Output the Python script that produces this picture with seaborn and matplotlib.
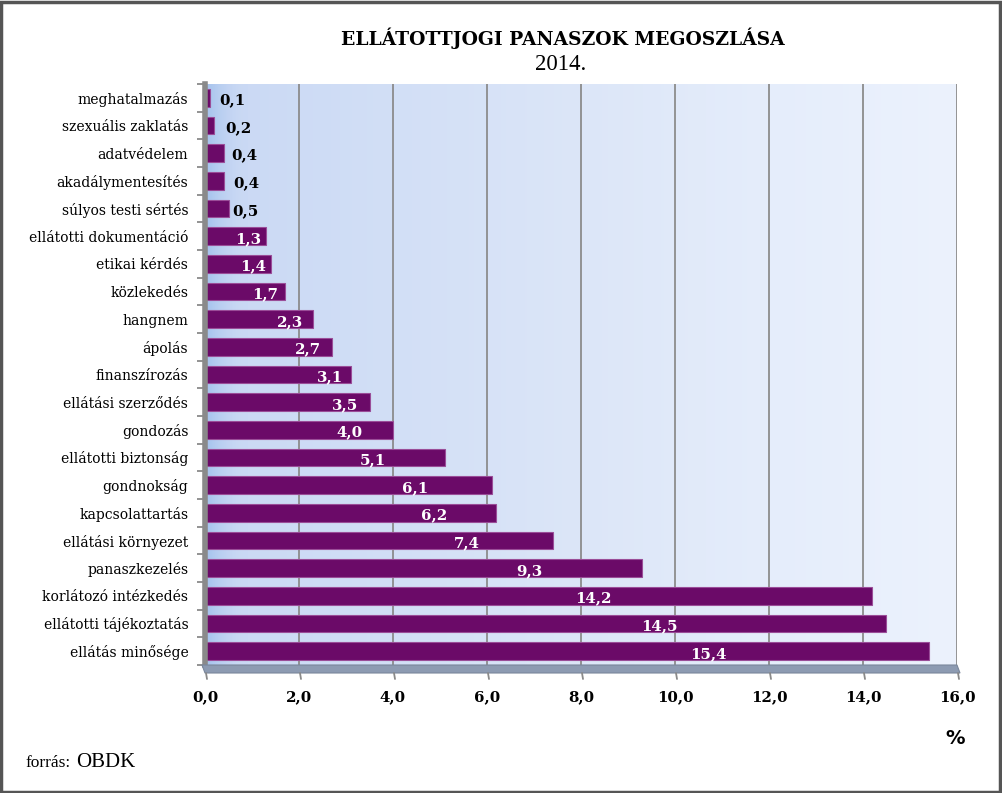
import numpy as np
import pandas as pd
import matplotlib
matplotlib.use("Agg")
import matplotlib.pyplot as plt
import seaborn as sns
from matplotlib.patches import Polygon, Rectangle
from matplotlib.colors import LinearSegmentedColormap
from matplotlib.ticker import FixedLocator, FuncFormatter

categories = ["meghatalmazás", "szexuális zaklatás", "adatvédelem", "akadálymentesítés",
              "súlyos testi sértés", "ellátotti dokumentáció", "etikai kérdés", "közlekedés",
              "hangnem", "ápolás", "finanszírozás", "ellátási szerződés", "gondozás",
              "ellátotti biztonság", "gondnokság", "kapcsolattartás", "ellátási környezet",
              "panaszkezelés", "korlátozó intézkedés", "ellátotti tájékoztatás", "ellátás minősége"]
values = [0.1, 0.2, 0.4, 0.4, 0.5, 1.3, 1.4, 1.7, 2.3, 2.7, 3.1, 3.5, 4.0, 5.1, 6.1, 6.2,
          7.4, 9.3, 14.2, 14.5, 15.4]
xticks = [0, 2, 4, 6, 8, 10, 12, 14, 16]
title = "ELLÁTOTTJOGI PANASZOK MEGOSZLÁSA"
subtitle = "2014."

# layout: where the value labels sit (data units), as in the original chart
label_x = [0.30, 0.43, 0.55, 0.60, 0.58, 0.91, 1.02, 1.27, 1.80, 2.19, 2.65, 2.97, 3.08,
           3.57, 4.46, 4.88, 5.58, 6.90, 8.26, 9.66, 10.70]

df = pd.DataFrame({"cat": categories, "val": values})

sns.set_theme(style="white")
plt.rcParams["font.family"] = ["DejaVu Serif", "Liberation Serif"]
plt.rcParams["text.color"] = "black"
plt.rcParams["xtick.color"] = "black"
plt.rcParams["ytick.color"] = "black"

W, H = 1002, 793
fig = plt.figure(figsize=(W / 100, H / 100), dpi=100)
fig.patch.set_facecolor("white")

left, right, top, bottom = 205, 957, 84, 665
ax = fig.add_axes([left / W, 1 - bottom / H, (right - left) / W, (bottom - top) / H])

# gradient background
cmap = LinearSegmentedColormap.from_list("bg", ["#c9d8f4", "#d2dff6", "#dce6f8", "#e5edfb", "#ecf2fd"])
grad = np.linspace(0, 1, 256).reshape(1, -1)
grad = np.vstack([grad, grad])
ax.imshow(grad, aspect="auto", cmap=cmap, extent=[0, 16, len(categories) - 0.5, -0.5],
          zorder=0, interpolation="bicubic")
cmap2 = LinearSegmentedColormap.from_list("bg2", [(0.64, 0.76, 0.93, 1.0), (0.79, 0.85, 0.96, 0.0)])
grad2 = np.linspace(0, 1, 64).reshape(1, -1)
ax.imshow(np.vstack([grad2, grad2]), aspect="auto", cmap=cmap2,
          extent=[0, 0.9, len(categories) - 0.5, -0.5], zorder=0.1, interpolation="bicubic")

for xv in xticks[1:]:
    ax.axvline(xv, color="#8c8c8c", lw=1.3, zorder=0.5)

sns.barplot(data=df, x="val", y="cat", orient="h", color="#6b0a68", saturation=1,
            width=0.64, edgecolor="#9a4d98", linewidth=0.8, ax=ax, zorder=2)

ax.set_xlim(0, 16)
ax.set_ylim(len(categories) - 0.5, -0.5)
ax.set_xlabel("")
ax.set_ylabel("")

for i, (v, lx) in enumerate(zip(values, label_x)):
    txt = f"{v:.1f}".replace(".", ",")
    if v < 1.0:
        ax.text(lx, i + 0.08, txt, color="black", fontsize=10.8,
                fontweight="bold", ha="left", va="center", zorder=3)
    else:
        ax.text(lx, i + 0.1, txt, color="white", fontsize=10.8,
                fontweight="bold", ha="center", va="center", zorder=3)

for s in ["top", "right", "bottom"]:
    ax.spines[s].set_visible(False)
ax.spines["left"].set_color("#8a8a8a")
ax.spines["left"].set_linewidth(4)

ax.tick_params(axis="y", which="major", length=0, pad=12, labelsize=10, labelcolor="black")
ax.yaxis.set_minor_locator(FixedLocator(np.arange(-0.5, len(categories), 1)))
ax.tick_params(axis="y", which="minor", length=6, width=1.3, color="#8a8a8a", left=True)

ax.set_xticks(xticks)
ax.xaxis.set_major_formatter(FuncFormatter(lambda v, p: f"{v:.1f}".replace(".", ",")))
ax.tick_params(axis="x", length=0, pad=18, labelsize=10.8, labelcolor="black")
for lab in ax.get_xticklabels():
    lab.set_fontweight("bold")

# floor (pseudo-3D)
floor = Polygon([[(left - 3) / W, 1 - bottom / H], [right / W, 1 - bottom / H],
                 [(right + 3) / W, 1 - (bottom + 8) / H], [left / W, 1 - (bottom + 8) / H]],
                closed=True, transform=fig.transFigure, facecolor="#8d9bb2",
                edgecolor="#7a879c", lw=0.8, zorder=1)
fig.patches.append(floor)
for xv in xticks:
    px = left + (right - left) * xv / 16 + 1
    fig.add_artist(plt.Line2D([px / W, (px + 1) / W], [1 - (bottom + 8) / H, 1 - (bottom + 14) / H],
                              transform=fig.transFigure, color="#8a8a8a", lw=1.3))

fig.text(563 / W, 1 - 38 / H, title, ha="center", va="center", fontsize=13.5, fontweight="bold")
fig.text(561 / W, 1 - 64 / H, subtitle, ha="center", va="center", fontsize=16.5,
         family=["Liberation Serif"])
fig.text(955 / W, 1 - 738 / H, "%", ha="center", va="center", fontsize=14, fontweight="bold",
         family=["DejaVu Sans"])
fig.text(25 / W, 1 - 767 / H, "forrás:", ha="left", va="baseline", fontsize=12.5,
         family=["Liberation Serif"])
fig.text(76 / W, 1 - 767 / H, "OBDK", ha="left", va="baseline", fontsize=15,
         family=["Liberation Serif"])

border = Rectangle((0.001, 0.001), 0.997, 0.997, transform=fig.transFigure, fill=False,
                   edgecolor="#555555", lw=2.5)
fig.patches.append(border)

fig.savefig("out.png", dpi=100)
